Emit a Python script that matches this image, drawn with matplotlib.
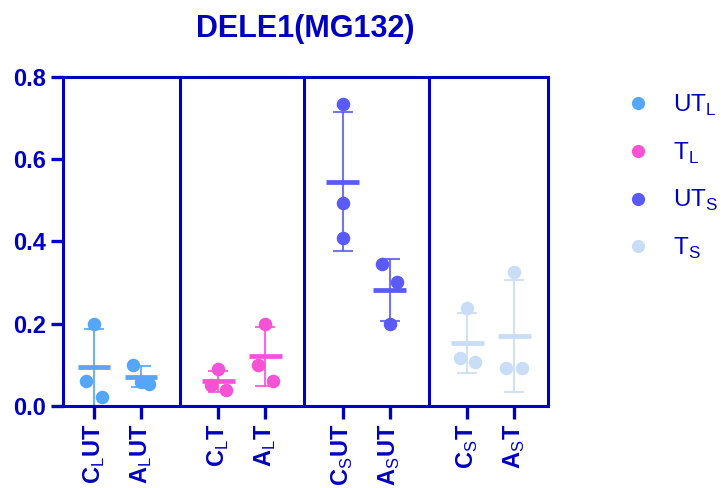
import numpy as np
import matplotlib
matplotlib.use("Agg")
import matplotlib.pyplot as plt
from matplotlib.lines import Line2D

plt.rcParams['font.family'] = 'Liberation Sans'
plt.rcParams['mathtext.fontset'] = 'custom'
plt.rcParams['mathtext.rm'] = 'Liberation Sans'
plt.rcParams['mathtext.bf'] = 'Liberation Sans:bold'

# data (three replicates per condition)
c_l_ut = [0.200, 0.062, 0.021]
a_l_ut = [0.100, 0.059, 0.053]
c_l_t = [0.089, 0.051, 0.039]
a_l_t = [0.200, 0.100, 0.062]
c_s_ut = [0.734, 0.493, 0.408]
a_s_ut = [0.345, 0.302, 0.199]
c_s_t = [0.238, 0.116, 0.106]
a_s_t = [0.327, 0.092, 0.092]

tick_labels = [r'$\mathbf{C}_{\mathrm{L}}\mathbf{UT}$', r'$\mathbf{A}_{\mathrm{L}}\mathbf{UT}$',
               r'$\mathbf{C}_{\mathrm{L}}\mathbf{T}$', r'$\mathbf{A}_{\mathrm{L}}\mathbf{T}$',
               r'$\mathbf{C}_{\mathrm{S}}\mathbf{UT}$', r'$\mathbf{A}_{\mathrm{S}}\mathbf{UT}$',
               r'$\mathbf{C}_{\mathrm{S}}\mathbf{T}$', r'$\mathbf{A}_{\mathrm{S}}\mathbf{T}$']
legend_labels = [r'$\mathrm{UT}_{\mathrm{L}}$', r'$\mathrm{T}_{\mathrm{L}}$',
                 r'$\mathrm{UT}_{\mathrm{S}}$', r'$\mathrm{T}_{\mathrm{S}}$']
colors = ['#55a6f8', '#f552d6', '#5a5af6', '#c9ddf6']

groups = [[c_l_ut, a_l_ut], [c_l_t, a_l_t], [c_s_ut, a_s_ut], [c_s_t, a_s_t]]
# horizontal scatter of the replicate points
jitter = [[0, -0.16, 0.17], [-0.17, 0, 0.17], [0, -0.16, 0.16], [0, -0.16, 0.16],
          [0, 0, 0], [-0.16, 0.16, 0], [0, -0.15, 0.17], [0, -0.17, 0.17]]

axc = '#0000c0'
gap = 2.65

fig = plt.figure(figsize=(7.21, 4.88), dpi=100)
ax = fig.add_axes([63/721, 82/488, 485/721, 329/488])

k = 0
xs = []
for g, grp in enumerate(groups):
    for i, vals in enumerate(grp):
        x = g*gap + i
        xs.append(x)
        vals = np.array(vals)
        m = vals.mean()
        sd = vals.std(ddof=1)
        c = colors[g]
        ax.errorbar(x, m, yerr=sd, color=c, lw=1.5, capsize=7, capthick=1.5, zorder=2, alpha=0.85)
        ax.hlines(m, x-0.35, x+0.35, color=c, lw=3.4, zorder=3)
        ax.scatter(x + np.array(jitter[k]), vals, s=95, color=c, zorder=4, linewidths=0)
        k += 1

for g in range(3):
    ax.axvline(g*gap + 1 + (gap-1)/2, color=axc, lw=2.2, zorder=1)

ax.set_xlim(-0.66, 3*gap + 1 + 0.72)
ax.set_ylim(0, 0.8)
ax.set_yticks([0, 0.2, 0.4, 0.6, 0.8])
ax.set_yticklabels(['0.0', '0.2', '0.4', '0.6', '0.8'])
ax.set_xticks(xs)
ax.set_xticklabels(tick_labels, rotation=90)
for s in ax.spines.values():
    s.set_color(axc)
    s.set_linewidth(2.2)
ax.tick_params(colors=axc, width=2.4, length=9, labelsize=17)
for t in ax.get_yticklabels():
    t.set_fontweight('bold')

ax.set_title('DELE1(MG132)', fontsize=22, fontweight='bold', color=axc, pad=29)

handles = [Line2D([], [], ls='', marker='o', ms=9.5, color=c, mec='none') for c in colors]
leg = fig.legend(handles, legend_labels, loc='upper left', bbox_to_anchor=(626/721, 1 - 93/488),
                 frameon=False, fontsize=17.5, labelspacing=0.92, handlelength=1.0,
                 handletextpad=0.95, borderpad=0, borderaxespad=0)
for t in leg.get_texts():
    t.set_color(axc)

fig.savefig('out.png', dpi=100)
